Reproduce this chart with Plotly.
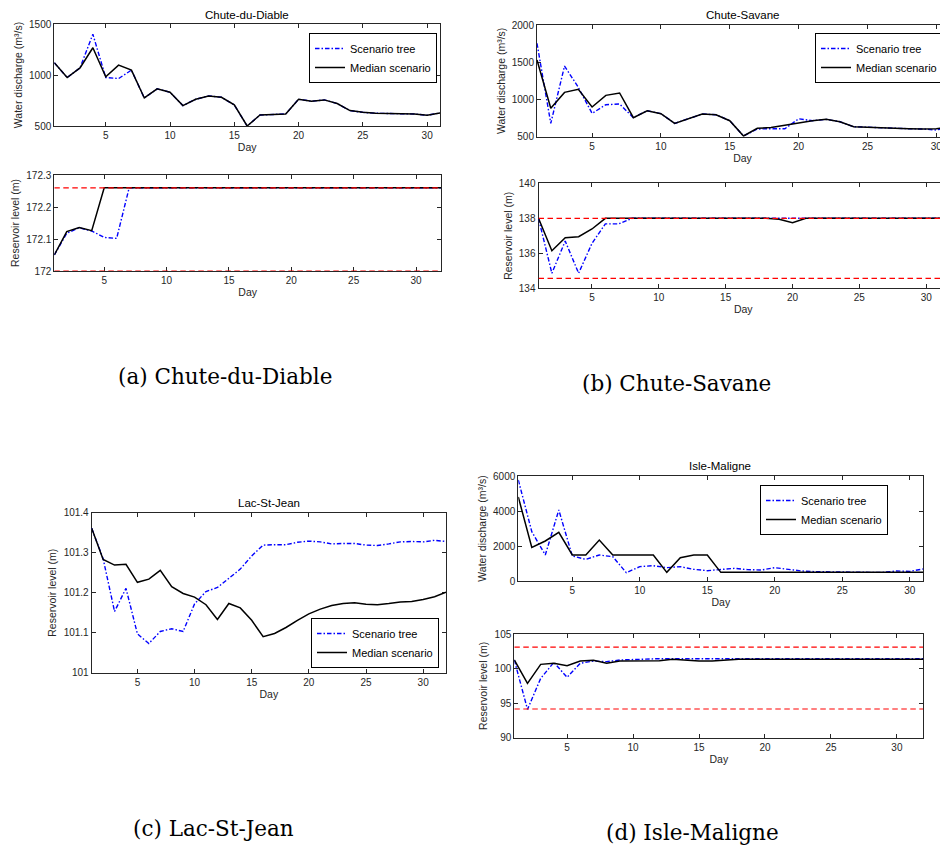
import plotly.graph_objects as go

# ---------------- data ----------------
days_q = list(range(1, 32))   # discharge panels: days 1..31
days_h = list(range(1, 33))   # reservoir-level panels: days 1..32

# (a) Chute-du-Diable
cdd_q_tree = [1120, 975, 1070, 1400, 975, 965, 1048, 775, 864, 831, 700, 762, 795, 782, 707, 500,
              608, 612, 618, 762, 743, 756, 720, 651, 634, 625, 625, 618, 618, 605, 628]
cdd_q_median = [1120, 975, 1070, 1267, 982, 1097, 1048, 775, 864, 831, 700, 762, 795, 782, 707, 500,
                608, 612, 618, 762, 743, 756, 720, 651, 634, 625, 625, 618, 618, 605, 628]
cdd_h_tree = [172.05, 172.118, 172.135, 172.125, 172.105, 172.102, 172.26, 172.26, 172.26, 172.26,
              172.26, 172.26, 172.26, 172.26, 172.26, 172.26, 172.26, 172.26, 172.26, 172.26,
              172.26, 172.26, 172.26, 172.26, 172.26, 172.26, 172.26, 172.26, 172.26, 172.26,
              172.26, 172.26]
cdd_h_median = [172.05, 172.123, 172.136, 172.126, 172.26, 172.26, 172.26, 172.26, 172.26, 172.26,
                172.26, 172.26, 172.26, 172.26, 172.26, 172.26, 172.26, 172.26, 172.26, 172.26,
                172.26, 172.26, 172.26, 172.26, 172.26, 172.26, 172.26, 172.26, 172.26, 172.26,
                172.26, 172.26]
cdd_h_limits = [172.26, 172.0]

# (b) Chute-Savane
cs_q_tree = [1754, 679, 1449, 1163, 813, 930, 939, 755, 849, 809, 679, 746, 804, 795, 715, 509,
             603, 607, 607, 740, 715, 733, 701, 634, 625, 621, 616, 607, 603, 590, 626]
cs_q_median = [1530, 881, 1095, 1136, 899, 1055, 1087, 755, 849, 809, 679, 746, 804, 795, 715, 509,
               612, 625, 657, 688, 715, 733, 701, 634, 625, 621, 616, 607, 603, 607, 626]
cs_h_tree = [138.0, 134.86, 136.7, 134.86, 136.57, 137.68, 137.68, 138.0, 138.0, 138.0, 138.0,
             138.0, 138.0, 138.0, 138.0, 138.0, 138.0, 138.0, 138.0, 138.0, 138.0, 138.0, 138.0,
             138.0, 138.0, 138.0, 138.0, 138.0, 138.0, 138.0, 138.0, 138.0]
cs_h_median = [138.0, 136.15, 136.89, 136.95, 137.39, 138.0, 138.0, 138.0, 138.0, 138.0, 138.0,
               138.0, 138.0, 138.0, 138.0, 138.0, 138.0, 138.0, 137.94, 137.75, 138.0, 138.0, 138.0,
               138.0, 138.0, 138.0, 138.0, 138.0, 137.96, 137.96, 137.98, 138.0]
cs_h_limits = [138.0, 134.57]

# (c) Lac-St-Jean
lsj_h_tree = [101.361, 101.285, 101.153, 101.211, 101.097, 101.073, 101.103, 101.110, 101.103,
              101.172, 101.203, 101.213, 101.236, 101.259, 101.292, 101.319, 101.320, 101.320,
              101.326, 101.329, 101.327, 101.322, 101.323, 101.323, 101.319, 101.318, 101.322,
              101.327, 101.328, 101.327, 101.331, 101.328]
lsj_h_median = [101.361, 101.283, 101.269, 101.271, 101.226, 101.234, 101.256, 101.215, 101.198,
                101.189, 101.170, 101.133, 101.173, 101.162, 101.131, 101.090, 101.098, 101.113,
                101.131, 101.147, 101.159, 101.168, 101.173, 101.175, 101.171, 101.170, 101.173,
                101.177, 101.178, 101.183, 101.190, 101.201]

# (d) Isle-Maligne
im_q_tree = [5771, 2819, 1486, 4057, 1429, 1238, 1486, 1390, 476, 819, 876, 762, 819, 667, 590,
             667, 724, 648, 629, 762, 667, 571, 533, 514, 495, 495, 495, 495, 571, 552, 686]
im_q_median = [4800, 1924, 2286, 2781, 1486, 1486, 2343, 1486, 1486, 1486, 1486, 495, 1333, 1486,
               1486, 495, 495, 495, 495, 495, 495, 495, 495, 495, 495, 495, 495, 495, 495, 495, 495]
im_h_tree = [101.24, 94.1, 98.58, 100.9, 98.73, 100.76, 101.09, 101.0, 101.24, 101.33, 101.43,
             101.43, 101.43, 101.43, 101.43, 101.43, 101.43, 101.43, 101.43, 101.43, 101.43,
             101.43, 101.43, 101.43, 101.43, 101.43, 101.43, 101.43, 101.43, 101.43, 101.43, 101.43]
im_h_median = [101.24, 97.86, 100.61, 100.76, 100.42, 101.09, 101.19, 100.76, 101.09, 101.14,
               101.14, 101.14, 101.33, 101.19, 101.09, 101.09, 101.24, 101.33, 101.33, 101.33,
               101.33, 101.33, 101.33, 101.33, 101.33, 101.33, 101.33, 101.33, 101.33, 101.33,
               101.33, 101.33]
im_h_limits = [103.1, 94.15]

# tick labels
x_ticks = [5, 10, 15, 20, 25, 30]
cdd_q_ticks = [500, 1000, 1500]
cdd_h_ticks = [172.0, 172.1, 172.2, 172.3]
cdd_h_ticktext = ["172", "172.1", "172.2", "172.3"]
cs_q_ticks = [500, 1000, 1500, 2000]
cs_h_ticks = [134, 136, 138, 140]
lsj_h_ticks = [101.0, 101.1, 101.2, 101.3, 101.4]
lsj_h_ticktext = ["101", "101.1", "101.2", "101.3", "101.4"]
im_q_ticks = [0, 2000, 4000, 6000]
im_h_ticks = [90, 95, 100, 105]

titles = ["Chute-du-Diable", "Chute-Savane", "Lac-St-Jean", "Isle-Maligne"]
captions = ["(a) Chute-du-Diable", "(b) Chute-Savane", "(c) Lac-St-Jean", "(d) Isle-Maligne"]
q_label = "Water discharge (m³/s)"
h_label = "Reservoir level (m)"
x_label = "Day"

# ---------------- layout helpers ----------------
# the page body has a default 8 px margin, so the figure is drawn 8 px in from the window edge
OFF = 8
W, H = 948 - OFF, 850 - OFF
def fx(px):
    return (px - OFF) / W
def fy(py):
    return 1 - (py - OFF) / H

SANS = "Liberation Sans, Arial, sans-serif"
AX = "#262626"
BLUE = "#0000ff"
RED = "#ff0000"
DASHDOT = "4.5px,2px,1.5px,2px"
DASHED = "5.5px,3.5px"

fig = go.Figure()

def add_pair(xs, tree, median, xa, ya, legend=None):
    fig.add_trace(go.Scatter(x=xs, y=tree, mode="lines", name="Scenario tree",
                             line=dict(color=BLUE, width=1.4, dash=DASHDOT),
                             xaxis=xa, yaxis=ya, showlegend=legend is not None,
                             legend=legend or "legend"))
    fig.add_trace(go.Scatter(x=xs, y=median, mode="lines", name="Median scenario",
                             line=dict(color="black", width=1.5),
                             xaxis=xa, yaxis=ya, showlegend=legend is not None,
                             legend=legend or "legend"))

def add_limits(limits, xa, ya, x0, x1):
    for v in limits:
        fig.add_trace(go.Scatter(x=[x0, x1], y=[v, v], mode="lines",
                                 line=dict(color=RED, width=1.2, dash=DASHED),
                                 xaxis=xa, yaxis=ya, showlegend=False, hoverinfo="skip"))

add_pair(days_q, cdd_q_tree, cdd_q_median, "x", "y", "legend")
add_pair(days_h, cdd_h_tree, cdd_h_median, "x2", "y2")
add_limits(cdd_h_limits, "x2", "y2", 1, 32)
add_pair(days_q, cs_q_tree, cs_q_median, "x3", "y3", "legend2")
add_pair(days_h, cs_h_tree, cs_h_median, "x4", "y4")
add_limits(cs_h_limits, "x4", "y4", 1, 32)
add_pair(days_h, lsj_h_tree, lsj_h_median, "x5", "y5", "legend3")
add_pair(days_q, im_q_tree, im_q_median, "x6", "y6", "legend4")
add_pair(days_h, im_h_tree, im_h_median, "x7", "y7")
add_limits(im_h_limits, "x7", "y7", 1, 32)

# panel geometry in window pixels: (left, right, top, bottom, xrange, yrange, yticks, yticktext, ylabel, mirror_y)
panels = [
    (54.3, 440.0, 24.0, 126.0, [1, 31], [500, 1500], cdd_q_ticks, None, q_label, True),
    (54.3, 441.0, 175.0, 271.0, [1, 32], [172.0, 172.3], cdd_h_ticks, cdd_h_ticktext, h_label, True),
    (537.0, 948.0, 25.0, 136.7, [1, 30.85], [500, 2000], cs_q_ticks, None, q_label, False),
    (538.5, 948.0, 183.3, 288.3, [1, 31.63], [134, 140], cs_h_ticks, None, h_label, False),
    (91.7, 446.0, 512.7, 672.7, [1, 32], [101.0, 101.4], lsj_h_ticks, lsj_h_ticktext, h_label, True),
    (518.3, 923.3, 476.0, 581.0, [1, 31], [0, 6000], im_q_ticks, None, q_label, True),
    (514.3, 923.3, 634.0, 737.7, [1, 32], [90, 105], im_h_ticks, None, h_label, True),
]

layout = dict(
    width=W, height=H, margin=dict(l=0, r=0, t=0, b=0, autoexpand=False),
    paper_bgcolor="white", plot_bgcolor="white",
    font=dict(family=SANS, size=10, color=AX),
    showlegend=True,
)

for i, (l, r, t, b, xr, yr, yt, ytt, ylab, mir) in enumerate(panels, start=1):
    sx = "" if i == 1 else str(i)
    layout["xaxis" + sx] = dict(
        domain=[fx(l), min(fx(r), 1.0)], range=xr, anchor="y" + sx, automargin=False,
        tickmode="array", tickvals=x_ticks, ticks="inside", ticklen=4, tickcolor=AX,
        showline=True, linecolor=AX, linewidth=1, mirror="ticks", showgrid=False, zeroline=False,
        tickfont=dict(size=10, color=AX),
        title=dict(text=x_label, font=dict(size=10.5, color=AX), standoff=3),
        layer="below traces",
    )
    ydict = dict(
        domain=[fy(b), fy(t)], range=yr, anchor="x" + sx, automargin=False,
        tickmode="array", tickvals=yt, ticks="inside", ticklen=4, tickcolor=AX,
        showline=True, linecolor=AX, linewidth=1, mirror="ticks" if mir else False,
        showgrid=False, zeroline=False,
        tickfont=dict(size=10, color=AX),
        title=dict(text=ylab, font=dict(size=10.5, color=AX), standoff=4),
        layer="below traces",
    )
    if ytt is not None:
        ydict["ticktext"] = ytt
    layout["yaxis" + sx] = ydict

def legend_at(left, top):
    return dict(x=fx(left), y=fy(top), xanchor="left", yanchor="top",
                bgcolor="white", bordercolor="black", borderwidth=1,
                font=dict(family=SANS, size=11, color="black"),
                itemwidth=30, tracegroupgap=0)

layout["legend"] = legend_at(309, 33)
layout["legend2"] = legend_at(815, 33)
layout["legend3"] = legend_at(311, 618)
layout["legend4"] = legend_at(760, 485)

annotations = []
title_pos = [(247, 15), (743, 15), (268.8, 503), (720, 466)]
for txt, (cx, cy) in zip(titles, title_pos):
    annotations.append(dict(text=txt, x=fx(cx), y=fy(cy), xref="paper", yref="paper",
                            xanchor="center", yanchor="middle", showarrow=False,
                            font=dict(family=SANS, size=11.5, color="black")))
cap_pos = [(225, 376), (676, 383), (213, 828), (692, 832)]
for txt, (cx, cy) in zip(captions, cap_pos):
    annotations.append(dict(text=txt, x=fx(cx), y=fy(cy), xref="paper", yref="paper",
                            xanchor="center", yanchor="middle", showarrow=False,
                            font=dict(family="DejaVu Serif, serif", size=21.5, color="black")))
layout["annotations"] = annotations

fig.update_layout(**layout)
fig.write_html("out.html")
